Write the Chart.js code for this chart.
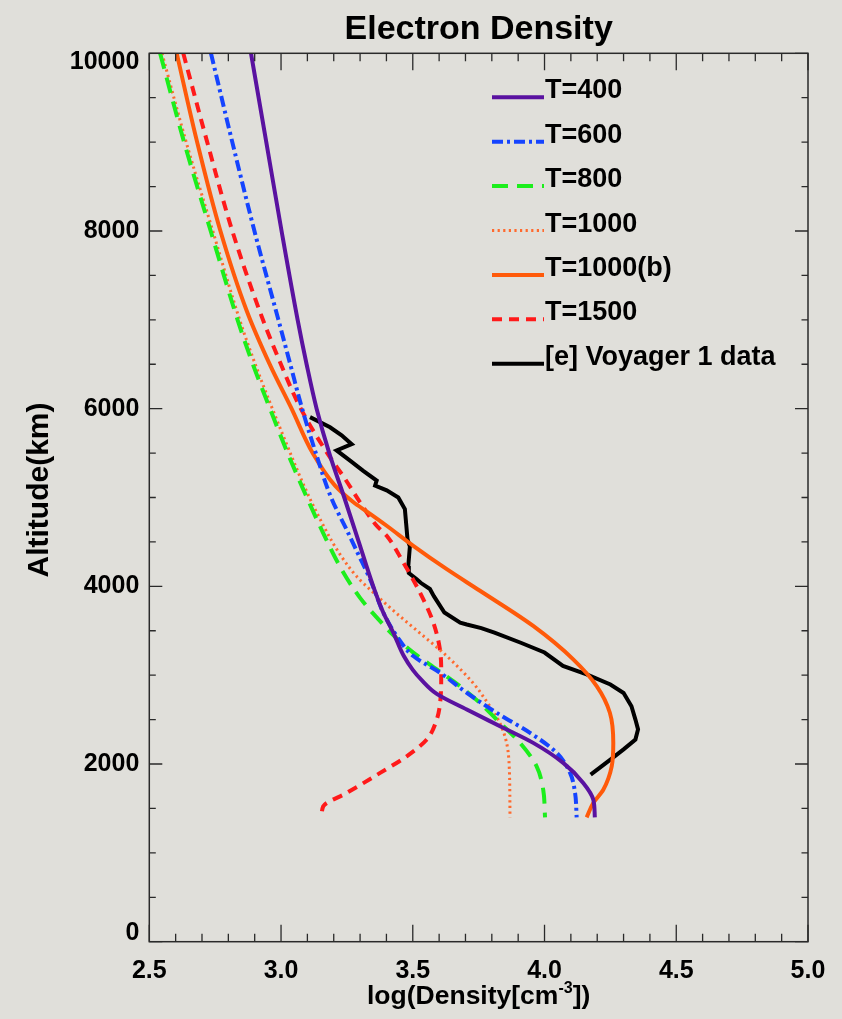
<!DOCTYPE html>
<html>
<head>
<meta charset="utf-8">
<title>Electron Density</title>
<script src="https://cdn.jsdelivr.net/npm/chart.js@4.4.0/dist/chart.umd.min.js"></script>
<style>
  html, body { margin: 0; padding: 0; background: #e0dfda; }
  #wrap { width: 842px; height: 1019px; position: relative; }
</style>
</head>
<body>
<div id="wrap"><canvas id="density"></canvas></div>
<script>
(function () {
  const FONT = '"Liberation Sans", Arial, Helvetica, sans-serif';

  // axis ticks
  const xTicks = [2.5, 3.0, 3.5, 4.0, 4.5, 5.0];
  const yTicks = [0, 2000, 4000, 6000, 8000, 10000];

  // [log density, altitude km]
  const t400 = [
    [2.886, 10000], [2.944, 9000], [3.002, 8000], [3.063, 7000], [3.097, 6500],
    [3.135, 6000], [3.183, 5500], [3.240, 5000], [3.295, 4500], [3.350, 4000],
    [3.388, 3705], [3.426, 3480], [3.466, 3215], [3.500, 3060], [3.532, 2950],
    [3.591, 2790], [3.705, 2614], [3.831, 2426], [3.957, 2238], [4.071, 2013],
    [4.147, 1787], [4.185, 1600], [4.191, 1400]
  ];
  const t600 = [
    [2.734, 10000], [2.815, 9000], [2.899, 8000], [2.990, 7000], [3.035, 6500],
    [3.080, 6000], [3.132, 5500], [3.190, 5000], [3.255, 4600], [3.290, 4380],
    [3.338, 4080], [3.388, 3705], [3.439, 3441], [3.502, 3215], [3.603, 3028],
    [3.705, 2802], [3.818, 2577], [3.945, 2351], [4.046, 2126], [4.097, 1900],
    [4.116, 1674], [4.122, 1400]
  ];
  const t800 = [
    [2.541, 10000], [2.632, 9000], [2.733, 8000], [2.835, 7000], [2.893, 6500],
    [2.958, 6000], [3.025, 5500], [3.098, 5000], [3.160, 4600], [3.228, 4200],
    [3.300, 3870], [3.363, 3650], [3.430, 3440], [3.502, 3254], [3.591, 3065],
    [3.679, 2877], [3.750, 2700], [3.818, 2501], [3.907, 2238], [3.970, 1974],
    [3.995, 1711], [4.002, 1400]
  ];
  const t1000 = [
    [2.548, 10000], [2.640, 9000], [2.741, 8000], [2.843, 7000], [2.902, 6500],
    [2.967, 6000], [3.035, 5500], [3.092, 5100], [3.148, 4757], [3.211, 4419],
    [3.285, 4118], [3.350, 3931], [3.435, 3705], [3.525, 3479], [3.629, 3215],
    [3.728, 2915], [3.775, 2727], [3.830, 2464], [3.856, 2238], [3.866, 1974],
    [3.869, 1400]
  ];
  const t1000b = [
    [2.604, 10000], [2.680, 9020], [2.768, 8020], [2.870, 7100], [2.959, 6487],
    [3.040, 6000], [3.120, 5500], [3.205, 5133], [3.275, 4946], [3.330, 4833],
    [3.401, 4682], [3.502, 4456], [3.629, 4193], [3.755, 3950], [3.957, 3554],
    [4.109, 3178], [4.198, 2877], [4.248, 2577], [4.261, 2238], [4.255, 1974],
    [4.223, 1711], [4.185, 1561], [4.160, 1400]
  ];
  const t1500 = [
    [2.629, 10000], [2.718, 9020], [2.813, 8020], [2.920, 7090], [2.996, 6525],
    [3.075, 6000], [3.173, 5510], [3.243, 5209], [3.300, 4946], [3.363, 4682],
    [3.401, 4569], [3.464, 4269], [3.527, 3931], [3.578, 3592], [3.603, 3291],
    [3.608, 3028], [3.605, 2727], [3.591, 2501], [3.553, 2276], [3.477, 2087],
    [3.376, 1900], [3.249, 1674], [3.160, 1523], [3.154, 1400]
  ];
  const voyager = [
    [3.110, 5905], [3.186, 5790], [3.230, 5700], [3.268, 5600], [3.211, 5530],
    [3.262, 5415], [3.312, 5300], [3.363, 5190], [3.357, 5135], [3.401, 5080],
    [3.445, 5000], [3.470, 4870], [3.475, 4700], [3.480, 4530], [3.489, 4450],
    [3.483, 4230], [3.485, 4150], [3.515, 4080], [3.530, 4040], [3.565, 3970],
    [3.580, 3890], [3.620, 3705], [3.680, 3590], [3.705, 3570], [3.760, 3530],
    [3.810, 3480], [3.910, 3365], [4.000, 3255], [4.070, 3105], [4.160, 3010],
    [4.250, 2895], [4.300, 2800], [4.330, 2650], [4.345, 2500], [4.355, 2390],
    [4.345, 2275], [4.300, 2165], [4.250, 2050], [4.175, 1880]
  ];

  const seriesLabels = ["T=400", "T=600", "T=800", "T=1000", "T=1000(b)", "T=1500", "[e] Voyager 1 data"];
  const seriesData = [t400, t600, t800, t1000, t1000b, t1500, voyager];

  const styles = [
    { color: "#5a12a0", width: 4, dash: [], smooth: true },
    { color: "#1544ff", width: 4, dash: [11, 4, 3, 4], smooth: true },
    { color: "#1cee1c", width: 4, dash: [16, 9], smooth: true },
    { color: "#ff6a2e", width: 3, dash: [2.2, 3.4], smooth: true },
    { color: "#ff5a0a", width: 4, dash: [], smooth: true },
    { color: "#ff1a1a", width: 4, dash: [10, 7], smooth: true },
    { color: "#000000", width: 4, dash: [], smooth: false }
  ];

  // model profiles are smoothed along altitude, the measured profile is not
  const datasets = seriesData.map((rows, i) => ({
    label: seriesLabels[i],
    data: rows.map(([x, y]) => ({ x, y })),
    showLine: true,
    pointRadius: 0,
    borderColor: styles[i].color,
    borderWidth: styles[i].width,
    borderDash: styles[i].dash,
    indexAxis: "y",
    cubicInterpolationMode: styles[i].smooth ? "monotone" : "default",
    tension: styles[i].smooth ? 0.4 : 0,
    fill: false
  }));

  // box, inward ticks, y labels, titles and the in-plot legend
  const framePlugin = {
    id: "frame",
    afterDatasetsDraw(chart) {
      const { ctx, chartArea: a, scales: { x, y } } = chart;
      ctx.save();

      ctx.strokeStyle = "#2a2a2a";
      ctx.lineWidth = 1.5;
      ctx.setLineDash([]);
      ctx.strokeRect(a.left, a.top, a.right - a.left, a.bottom - a.top);

      ctx.lineWidth = 1.3;
      ctx.beginPath();
      for (let i = 0; i <= 25; i++) {
        const px = x.getPixelForValue(2.5 + i * 0.1);
        const len = i % 5 === 0 ? 17 : 8;
        ctx.moveTo(px, a.bottom); ctx.lineTo(px, a.bottom - len);
        ctx.moveTo(px, a.top); ctx.lineTo(px, a.top + len);
      }
      for (let v = 0; v <= 10000; v += 500) {
        const py = y.getPixelForValue(v);
        const len = v % 2000 === 0 ? 13 : 6.5;
        ctx.moveTo(a.left, py); ctx.lineTo(a.left + len, py);
        ctx.moveTo(a.right, py); ctx.lineTo(a.right - len, py);
      }
      ctx.stroke();

      // y tick labels, kept inside the axis span at both ends
      ctx.fillStyle = "#000";
      ctx.font = `bold 25px ${FONT}`;
      ctx.textAlign = "right";
      ctx.textBaseline = "middle";
      yTicks.forEach((v) => {
        const py = Math.min(Math.max(y.getPixelForValue(v), a.top + 8.5), a.bottom - 8.5);
        ctx.fillText(String(v), a.left - 10, py);
      });

      // title
      const cx = (a.left + a.right) / 2;
      ctx.textAlign = "center";
      ctx.textBaseline = "alphabetic";
      ctx.font = `bold 34px ${FONT}`;
      ctx.fillText("Electron Density", cx, 39);

      // x axis title with superscript
      const main1 = "log(Density[cm";
      const sup = "-3";
      const main2 = "])";
      ctx.font = `bold 26.5px ${FONT}`;
      const w1 = ctx.measureText(main1).width;
      const w3 = ctx.measureText(main2).width;
      ctx.font = `bold 16px ${FONT}`;
      const w2 = ctx.measureText(sup).width;
      let tx = cx - (w1 + w2 + w3) / 2;
      ctx.textAlign = "left";
      ctx.font = `bold 26.5px ${FONT}`;
      ctx.fillText(main1, tx, 1004);
      tx += w1;
      ctx.font = `bold 16px ${FONT}`;
      ctx.fillText(sup, tx, 993);
      tx += w2;
      ctx.font = `bold 26.5px ${FONT}`;
      ctx.fillText(main2, tx, 1004);

      // y axis title
      ctx.save();
      ctx.translate(47.5, 490);
      ctx.rotate(-Math.PI / 2);
      ctx.textAlign = "center";
      ctx.font = `bold 30px ${FONT}`;
      ctx.fillText("Altitude(km)", 0, 0);
      ctx.restore();

      // legend
      chart.data.datasets.forEach((ds, i) => {
        const ly = a.top + 44 + i * 44.4;
        ctx.beginPath();
        ctx.strokeStyle = ds.borderColor;
        ctx.lineWidth = ds.borderWidth;
        ctx.setLineDash(ds.borderDash || []);
        ctx.moveTo(492, ly);
        ctx.lineTo(544, ly);
        ctx.stroke();
        ctx.setLineDash([]);
        ctx.fillStyle = "#000";
        ctx.font = `bold 27px ${FONT}`;
        ctx.textAlign = "left";
        ctx.textBaseline = "alphabetic";
        ctx.fillText(ds.label, 545, ly + 1);
      });

      ctx.restore();
    }
  };

  new Chart(document.getElementById("density"), {
    type: "scatter",
    data: { datasets },
    plugins: [framePlugin],
    options: {
      responsive: true,
      maintainAspectRatio: false,
      animation: false,
      devicePixelRatio: 1,
      layout: { padding: { top: 53.3, right: 34, bottom: 0, left: 0 } },
      plugins: {
        legend: { display: false },
        tooltip: { enabled: false },
        title: { display: false }
      },
      scales: {
        x: {
          type: "linear",
          min: xTicks[0],
          max: xTicks[xTicks.length - 1],
          afterBuildTicks(scale) {
            scale.ticks = xTicks.map((value) => ({ value }));
          },
          afterFit(scale) { scale.height = 77.3; },
          grid: { display: false, drawTicks: false },
          border: { display: false },
          ticks: {
            color: "#000",
            padding: 14,
            maxRotation: 0,
            font: { family: FONT, size: 25, weight: "bold" },
            callback(value) { return Number(value).toFixed(1); }
          }
        },
        y: {
          type: "linear",
          min: yTicks[0],
          max: yTicks[yTicks.length - 1],
          afterFit(scale) { scale.width = 149.3; },
          grid: { display: false, drawTicks: false },
          border: { display: false },
          ticks: { display: false }
        }
      }
    }
  });
})();
</script>
</body>
</html>
